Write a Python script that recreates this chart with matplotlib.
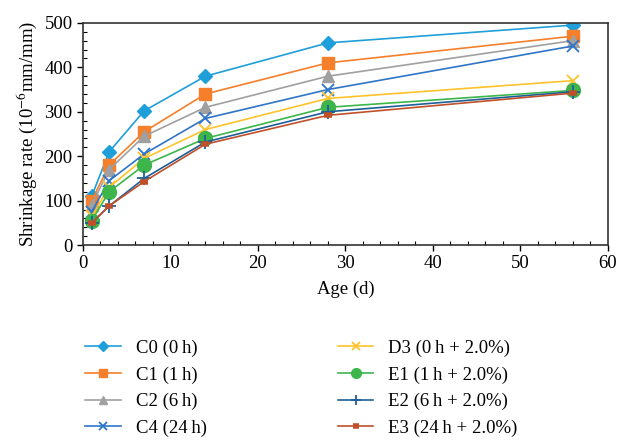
import matplotlib.pyplot as plt
from matplotlib.ticker import MultipleLocator

plt.rcParams["font.family"] = ["Liberation Serif", "DejaVu Serif"]
plt.rcParams["mathtext.fontset"] = "stix"

age = [1, 3, 7, 14, 28, 56]
labels = ["C0 (0\u2009h)", "C1 (1\u2009h)", "C2 (6\u2009h)", "C4 (24\u2009h)",
          "D3 (0\u2009h + 2.0%)", "E1 (1\u2009h + 2.0%)", "E2 (6\u2009h + 2.0%)",
          "E3 (24\u2009h + 2.0%)"]
c0 = [110, 210, 302, 380, 455, 495]
c1 = [100, 180, 255, 340, 410, 470]
c2 = [90, 170, 245, 310, 380, 460]
c4 = [75, 145, 205, 285, 350, 448]
d3 = [65, 130, 195, 260, 330, 370]
e1 = [55, 120, 180, 240, 310, 348]
e2 = [50, 88, 150, 232, 300, 345]
e3 = [50, 88, 143, 227, 292, 342]
series = [c0, c1, c2, c4, d3, e1, e2, e3]

colors = ["#1f9fd9", "#f57f2b", "#a0a0a0", "#2e75c8",
          "#ffc22b", "#3cb54a", "#1f5f99", "#c0502a"]
markers = ["D", "s", "^", "x", "x", "o", "+", "_"]
msizes = [7, 9, 9, 9, 9, 10, 10, 6]
mews = [1, 1, 1, 1.3, 1.3, 1, 1.3, 4]

fig = plt.figure(figsize=(6.19, 4.40), dpi=100)
ax = fig.add_axes([0.134, 0.443, 0.848, 0.505])

for vals, lab, col, mk, ms, mew in zip(series, labels, colors, markers, msizes, mews):
    ax.plot(age, vals, color=col, marker=mk, markersize=ms, markeredgewidth=mew,
            linewidth=1.2, label=lab)

ax.set_xlim(0, 60)
ax.set_ylim(0, 500)
ax.xaxis.set_major_locator(MultipleLocator(10))
ax.xaxis.set_minor_locator(MultipleLocator(2))
ax.yaxis.set_major_locator(MultipleLocator(100))
ax.yaxis.set_minor_locator(MultipleLocator(20))
ax.tick_params(which="major", direction="out", length=4, width=1, labelsize=13.5)
ax.tick_params(which="minor", direction="in", length=3, width=0.8)
for s in ax.spines.values():
    s.set_linewidth(1.2)
    s.set_color("#333333")

ax.set_xlabel("Age (d)", fontsize=13.5, labelpad=6)
ax.set_ylabel("Shrinkage rate (10$^{-6}$mm/mm)", fontsize=13.5, labelpad=4)

handles, labs = ax.get_legend_handles_labels()
fig.legend(handles, labs, loc="upper left", bbox_to_anchor=(0.125, 0.245),
           ncol=2, frameon=False, fontsize=13.5, columnspacing=7.0,
           handlelength=1.9, handletextpad=0.8, markerscale=0.7,
           labelspacing=0.5, borderaxespad=0)

fig.savefig("out.png", dpi=100)
